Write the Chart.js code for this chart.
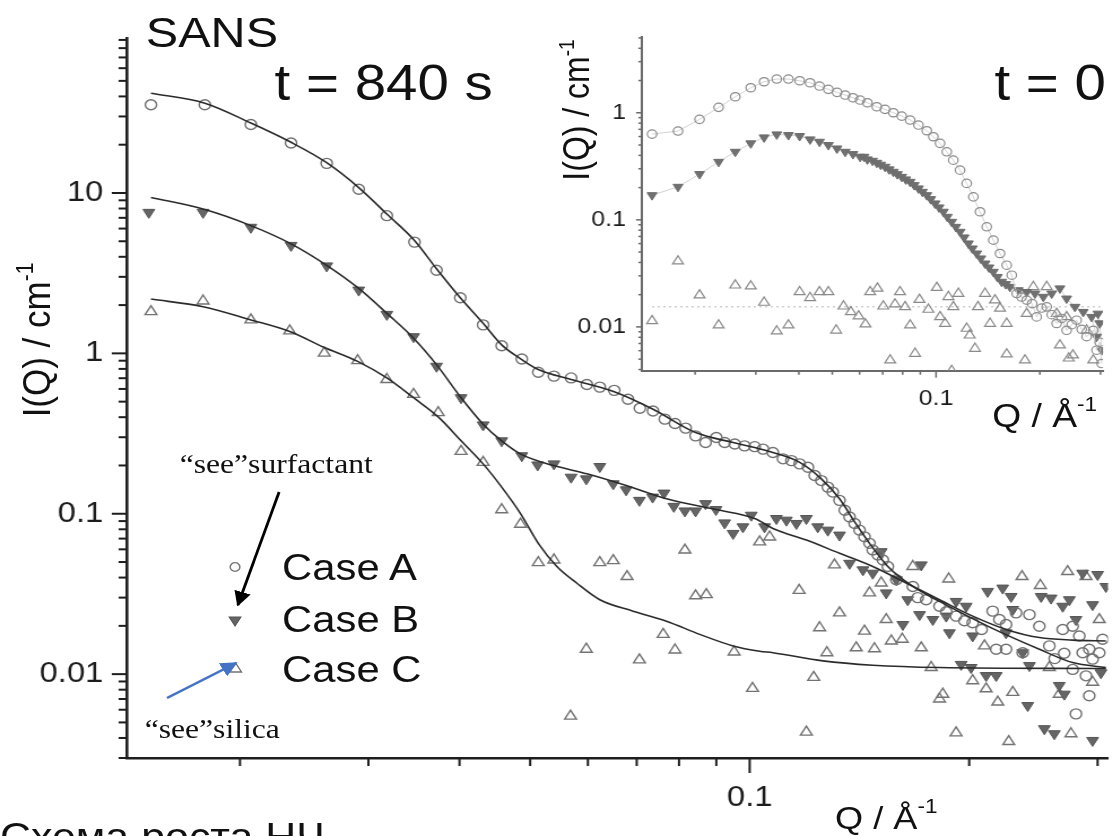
<!DOCTYPE html>
<html>
<head>
<meta charset="utf-8">
<script src="https://cdn.jsdelivr.net/npm/chart.js@4.4.1/dist/chart.umd.min.js"></script>
<style>
  html, body { margin: 0; padding: 0; background: #fff; overflow: hidden; }
  /* the source figure is stretched sideways, so the whole stage is too */
  #stage { position: absolute; left: 0; top: 0; width: 986px; height: 836px; transform: scaleX(1.13); transform-origin: 0 0; }
  #main { position: absolute; left: 0; top: 0; }
  #inset { position: absolute; left: 500px; top: 0; }
  #notes { position: absolute; left: 0; top: 0; }
</style>
</head>
<body>
<div id="stage">
  <canvas id="main" width="986" height="836"></canvas>
  <canvas id="inset" width="486" height="420"></canvas>
  <svg id="notes" width="986" height="836" font-family="'Liberation Sans', Arial, Helvetica, sans-serif" fill="#111">
    <defs>
      <marker id="headBlack" viewBox="0 0 10 10" refX="9" refY="5" markerWidth="6" markerHeight="6" orient="auto">
        <path d="M0,0 L10,5 L0,10 z" fill="#000"></path>
      </marker>
      <marker id="headBlue" viewBox="0 0 10 10" refX="9" refY="5" markerWidth="6" markerHeight="6" orient="auto">
        <path d="M0,0 L10,5 L0,10 z" fill="#4472c4"></path>
      </marker>
    </defs>
    <text x="129" y="47" font-size="43">SANS</text>
    <text x="243" y="100" font-size="50">t = 840 s</text>
    <text x="880" y="100" font-size="50">t = 0</text>

    <text transform="translate(44,340) rotate(-90)" text-anchor="middle" font-size="35">I(Q) / cm<tspan font-size="21" dy="-15">-1</tspan></text>
    <text transform="translate(521,110) rotate(-90)" text-anchor="middle" font-size="32">I(Q) / cm<tspan font-size="19" dy="-13">-1</tspan></text>
    <text x="739" y="829" font-size="32">Q / Å<tspan font-size="20" dy="-16">-1</tspan></text>
    <text x="878" y="427" font-size="33">Q / Å<tspan font-size="20" dy="-16">-1</tspan></text>

    <circle cx="208" cy="567" r="4.3" fill="none" stroke="#777" stroke-width="1.3"></circle>
    <polygon points="202.8,617 213.2,617 208,626" fill="#656565" stroke="#555" stroke-width="1"></polygon>
    <polygon points="208.5,663 213.7,672 203.3,672" fill="none" stroke="#737373" stroke-width="1.3"></polygon>
    <text x="249.6" y="580" font-size="37">Case A</text>
    <text x="249.6" y="632" font-size="37">Case B</text>
    <text x="249.6" y="682" font-size="37">Case C</text>

    <text x="159" y="473" font-size="28" font-family="'Liberation Serif', 'Times New Roman', serif">“see”surfactant</text>
    <text x="128" y="738" font-size="28" font-family="'Liberation Serif', 'Times New Roman', serif">“see”silica</text>
    <line x1="247" y1="492" x2="210.5" y2="605" stroke="#000" stroke-width="2.5" marker-end="url(#headBlack)"></line>
    <line x1="147.8" y1="698" x2="209" y2="663" stroke="#4472c4" stroke-width="2.5" marker-end="url(#headBlue)"></line>

    <text x="0" y="850" font-size="38">Схема роста НЧ</text>
  </svg>
</div>

<script>
// ---- t = 840 s, main plot: [Q (1/A), I(Q) (1/cm)] ----
const caseA840 = [
  [0.0151, 35.5], [0.0179, 35.5], [0.0207, 26.7], [0.0235, 20.5], [0.0263, 15.3],
  [0.0291, 10.55], [0.0318, 7.22], [0.0347, 4.94], [0.0372, 3.30], [0.0401, 2.22],
  [0.0431, 1.505], [0.0457, 1.116], [0.0487, 0.922], [0.0513, 0.763], [0.0539, 0.721],
  [0.0569, 0.703], [0.0598, 0.640], [0.0623, 0.616], [0.0652, 0.588], [0.0681, 0.517],
  [0.0707, 0.455], [0.0737, 0.437], [0.0765, 0.389], [0.0790, 0.365], [0.0817, 0.342],
  [0.0843, 0.306], [0.0870, 0.278], [0.0900, 0.299], [0.0924, 0.278], [0.0954, 0.272],
  [0.0984, 0.265], [0.1016, 0.262], [0.1043, 0.253], [0.1076, 0.241], [0.1111, 0.220],
  [0.1141, 0.2145], [0.1171, 0.2046], [0.1202, 0.195], [0.1228, 0.173], [0.1254, 0.161],
  [0.1280, 0.1466], [0.1300, 0.1365], [0.1328, 0.1212], [0.1350, 0.1051], [0.1371, 0.0955],
  [0.1393, 0.087], [0.1415, 0.079], [0.1437, 0.0718], [0.1460, 0.0654], [0.1475, 0.0594],
  [0.1499, 0.0553], [0.1523, 0.0515], [0.1547, 0.0469], [0.1589, 0.0388], [0.1674, 0.0352],
  [0.1700, 0.0300], [0.1746, 0.0291], [0.1821, 0.0265], [0.1860, 0.0245], [0.1919, 0.0230],
  [0.1970, 0.0215], [0.2022, 0.0209], [0.2080, 0.0190], [0.2154, 0.0247], [0.2200, 0.0219],
  [0.2247, 0.0204], [0.2319, 0.0241], [0.2419, 0.0235], [0.2496, 0.0199], [0.2178, 0.0143],
  [0.2247, 0.0143], [0.2368, 0.0136], [0.2576, 0.0150], [0.2620, 0.0125], [0.2700, 0.0135],
  [0.2687, 0.0190], [0.2773, 0.0199], [0.2832, 0.0173], [0.2862, 0.0136], [0.2922, 0.0143],
  [0.2953, 0.0124], [0.2892, 0.00976], [0.2922, 0.00734], [0.2802, 0.00565], [0.3016, 0.0136],
  [0.3048, 0.0165], [0.2773, 0.0107]
];
const caseB840 = [
  [0.0150, 7.57], [0.0178, 7.57], [0.0207, 6.11], [0.0235, 4.71], [0.0263, 3.51],
  [0.0291, 2.48], [0.0318, 1.75], [0.0346, 1.27], [0.0372, 0.831], [0.0402, 0.529],
  [0.0431, 0.358], [0.0457, 0.285], [0.0487, 0.230], [0.0512, 0.2016], [0.0539, 0.2046],
  [0.0569, 0.169], [0.0597, 0.165], [0.0623, 0.197], [0.0650, 0.1538], [0.0677, 0.141],
  [0.0706, 0.1212], [0.0736, 0.127], [0.0763, 0.1345], [0.0787, 0.1112], [0.0815, 0.1041],
  [0.0843, 0.1041], [0.0870, 0.1156], [0.0899, 0.1062], [0.0924, 0.0877], [0.0949, 0.0754],
  [0.0979, 0.0829], [0.1005, 0.0979], [0.1048, 0.0829], [0.1088, 0.0934], [0.1123, 0.0912],
  [0.1159, 0.087], [0.1196, 0.0934], [0.1240, 0.0829], [0.1280, 0.079], [0.1328, 0.0736],
  [0.1371, 0.0491], [0.1430, 0.0447], [0.1475, 0.0426], [0.1515, 0.058], [0.1539, 0.0321],
  [0.1589, 0.0388], [0.1719, 0.048], [0.1647, 0.0291], [0.1622, 0.0204], [0.1710, 0.0235],
  [0.1783, 0.0219], [0.1860, 0.0230], [0.1919, 0.0284], [0.1981, 0.0265], [0.1879, 0.0181],
  [0.2022, 0.0173], [0.2120, 0.0328], [0.2223, 0.0344], [0.2283, 0.0305], [0.2295, 0.0253],
  [0.2247, 0.0181], [0.2368, 0.0136], [0.2419, 0.0113], [0.1950, 0.0115], [0.2012, 0.0110],
  [0.2110, 0.0098], [0.2178, 0.0098], [0.2406, 0.00637], [0.2536, 0.00457], [0.2617, 0.00425],
  [0.2953, 0.00386], [0.2510, 0.0305], [0.2590, 0.0298], [0.2687, 0.0265], [0.2744, 0.0291],
  [0.2862, 0.0426], [0.3000, 0.0418], [0.2953, 0.0271], [0.2802, 0.0219], [0.2658, 0.0085],
  [0.2701, 0.0075], [0.3032, 0.0102], [0.3080, 0.0352]
];
const caseC840 = [
  [0.0151, 1.82], [0.0178, 2.12], [0.0207, 1.617], [0.0234, 1.382], [0.0261, 1.004],
  [0.0290, 0.901], [0.0318, 0.687], [0.0346, 0.555], [0.0374, 0.427], [0.0402, 0.245],
  [0.0431, 0.209], [0.0457, 0.106], [0.0485, 0.0861], [0.0513, 0.0496], [0.0539, 0.0515],
  [0.0623, 0.0496], [0.0650, 0.051], [0.0679, 0.0406], [0.0597, 0.0143], [0.0568, 0.00547],
  [0.0706, 0.01227], [0.0761, 0.0177], [0.0790, 0.01414], [0.0815, 0.0594], [0.0843, 0.0308],
  [0.0872, 0.0313], [0.0952, 0.01374], [0.1009, 0.00815], [0.1032, 0.0668], [0.1065, 0.0716],
  [0.1169, 0.0333], [0.1196, 0.00435], [0.1224, 0.00954], [0.1247, 0.01946], [0.1276, 0.0136],
  [0.1328, 0.0241], [0.1307, 0.048], [0.1400, 0.0146], [0.1437, 0.01854], [0.1483, 0.0144],
  [0.1460, 0.0321], [0.1515, 0.037], [0.1539, 0.0219], [0.1564, 0.0161], [0.1619, 0.0165],
  [0.1674, 0.0469], [0.1719, 0.0146], [0.1774, 0.011], [0.1875, 0.0392], [0.1919, 0.0043],
  [0.1821, 0.007], [0.1840, 0.0075], [0.2022, 0.0091], [0.2110, 0.0081], [0.2189, 0.0067],
  [0.2295, 0.0077], [0.2266, 0.0038], [0.2099, 0.015], [0.2363, 0.0406], [0.2504, 0.0357],
  [0.2576, 0.011], [0.2729, 0.0436], [0.2758, 0.00425], [0.2658, 0.0075], [0.2953, 0.0089],
  [0.3016, 0.0219], [0.2892, 0.0406]
];
// fitted curves
const fitA840 = [
  [0.0151, 41.9], [0.0179, 36.3], [0.0207, 27.3], [0.0235, 20.7], [0.0263, 15.45],
  [0.0291, 10.8], [0.0318, 7.39], [0.0347, 5.06], [0.0372, 3.37], [0.0401, 2.22],
  [0.0431, 1.54], [0.0457, 1.13], [0.0487, 0.914], [0.0513, 0.793], [0.0569, 0.687],
  [0.0652, 0.576], [0.0737, 0.448], [0.0843, 0.321], [0.0949, 0.278], [0.1016, 0.259],
  [0.1076, 0.241], [0.1171, 0.209], [0.1254, 0.165], [0.1328, 0.124], [0.1393, 0.0889],
  [0.1460, 0.0654], [0.1547, 0.0469], [0.1674, 0.0352], [0.1821, 0.0284], [0.2141, 0.0195],
  [0.2496, 0.0143], [0.2773, 0.0118], [0.3080, 0.011]
];
const fitB840 = [
  [0.0151, 9.38], [0.0178, 7.94], [0.0207, 6.26], [0.0235, 4.82], [0.0263, 3.54],
  [0.0291, 2.54], [0.0318, 1.776], [0.0346, 1.244], [0.0372, 0.851], [0.0402, 0.529],
  [0.0431, 0.362], [0.0457, 0.285], [0.0487, 0.2335], [0.0539, 0.1996], [0.0598, 0.1774],
  [0.0677, 0.150], [0.0769, 0.124], [0.0900, 0.1062], [0.1016, 0.0934], [0.1076, 0.081],
  [0.1196, 0.0685], [0.1328, 0.0567], [0.1475, 0.0469], [0.1639, 0.037], [0.1821, 0.0291],
  [0.2022, 0.0230], [0.2247, 0.019], [0.2496, 0.0169], [0.2773, 0.0163], [0.3080, 0.0161]
];
const fitC840 = [
  [0.0151, 2.18], [0.0178, 1.954], [0.0207, 1.617], [0.0234, 1.368], [0.0261, 1.089],
  [0.0290, 0.892], [0.0318, 0.703], [0.0346, 0.529], [0.0374, 0.4015], [0.0402, 0.285],
  [0.0431, 0.2046], [0.0457, 0.1466], [0.0485, 0.1003], [0.0513, 0.0654], [0.0544, 0.0469],
  [0.0579, 0.037], [0.0623, 0.0291], [0.0692, 0.0247], [0.0769, 0.0214], [0.0854, 0.0177],
  [0.0949, 0.015], [0.1032, 0.0139], [0.1076, 0.0136], [0.1260, 0.0121], [0.1475, 0.01137],
  [0.1821, 0.011], [0.3080, 0.01084]
];

// ---- t = 0, inset ----
const caseA0 = [
  [0.0150, 0.632], [0.01784, 0.675], [0.0206, 0.868], [0.0234, 1.123], [0.02615, 1.411],
  [0.0290, 1.712], [0.0317, 1.949], [0.0345, 2.065], [0.0373, 2.065], [0.0402, 1.991],
  [0.0431, 1.906], [0.0459, 1.776], [0.0487, 1.654], [0.0516, 1.551], [0.0545, 1.464],
  [0.0574, 1.381], [0.0602, 1.314], [0.0632, 1.240], [0.0673, 1.138], [0.0711, 1.076],
  [0.0752, 1.0], [0.0795, 0.931], [0.0841, 0.855], [0.0889, 0.768], [0.0940, 0.679],
  [0.0982, 0.597], [0.1027, 0.518], [0.1074, 0.432], [0.1122, 0.361], [0.1174, 0.291],
  [0.1227, 0.219], [0.1283, 0.164], [0.1341, 0.119], [0.1403, 0.0861], [0.1466, 0.0646],
  [0.1533, 0.0485], [0.1603, 0.0377], [0.1658, 0.0304], [0.1714, 0.0205], [0.1770, 0.0190],
  [0.1832, 0.0178], [0.1900, 0.0165], [0.1958, 0.0124], [0.2025, 0.0150], [0.2094, 0.0154],
  [0.2165, 0.0130], [0.2238, 0.01076], [0.2315, 0.0120], [0.2392, 0.0093], [0.2475, 0.0105],
  [0.2557, 0.01155], [0.2645, 0.0095], [0.2734, 0.0081], [0.2858, 0.0093], [0.2922, 0.00606],
  [0.2984, 0.0072], [0.3022, 0.00455]
];
const caseB0 = [
  [0.0150, 0.170], [0.01784, 0.2034], [0.0206, 0.2674], [0.0234, 0.348], [0.02615, 0.432],
  [0.0290, 0.518], [0.0317, 0.589], [0.0345, 0.628], [0.0373, 0.619], [0.0402, 0.606],
  [0.0431, 0.564], [0.0459, 0.536], [0.0487, 0.499], [0.0516, 0.464], [0.0545, 0.432],
  [0.0574, 0.411], [0.0602, 0.388], [0.0618, 0.388], [0.0632, 0.367], [0.0654, 0.356],
  [0.0673, 0.341], [0.0691, 0.327], [0.0711, 0.313], [0.0731, 0.296], [0.0752, 0.281],
  [0.0772, 0.267], [0.0795, 0.252], [0.0817, 0.2385], [0.0841, 0.2265], [0.0864, 0.211],
  [0.0889, 0.1965], [0.0913, 0.1827], [0.0940, 0.170], [0.0965, 0.1561], [0.0993, 0.1423],
  [0.1020, 0.1306], [0.1050, 0.119], [0.1078, 0.1067], [0.1110, 0.0958], [0.1141, 0.086],
  [0.1174, 0.0773], [0.1206, 0.0685], [0.1241, 0.0602], [0.1274, 0.054], [0.1312, 0.0485],
  [0.1348, 0.0436], [0.1387, 0.0391], [0.1424, 0.0359], [0.1466, 0.0327], [0.1506, 0.0293],
  [0.1550, 0.0264], [0.1592, 0.0251], [0.1638, 0.02366], [0.1731, 0.022], [0.1832, 0.0212],
  [0.1936, 0.0205], [0.2047, 0.0191], [0.2165, 0.0205], [0.2287, 0.0229], [0.2392, 0.0184],
  [0.2529, 0.0154], [0.2673, 0.0138], [0.2826, 0.0124], [0.2922, 0.0081], [0.2950, 0.0133],
  [0.2984, 0.0108], [0.3022, 0.00606]
];
const caseC0 = [
  [0.0150, 0.01138], [0.01784, 0.0411], [0.0206, 0.0198], [0.0234, 0.01038], [0.02615, 0.0245],
  [0.0290, 0.024], [0.0317, 0.0169], [0.0345, 0.00912], [0.0373, 0.01038], [0.0402, 0.0212],
  [0.0431, 0.0187], [0.0459, 0.0212], [0.0487, 0.0212], [0.0513, 0.0093], [0.0539, 0.0156],
  [0.0566, 0.0138], [0.0596, 0.0126], [0.0624, 0.0106], [0.0644, 0.0212], [0.0676, 0.0229],
  [0.0703, 0.0156], [0.0736, 0.00489], [0.0760, 0.0163], [0.0786, 0.0212], [0.0813, 0.0154],
  [0.0841, 0.01038], [0.0869, 0.00564], [0.0895, 0.018], [0.0950, 0.01454], [0.1005, 0.0233],
  [0.1027, 0.0124], [0.1062, 0.01075], [0.1086, 0.0191], [0.1110, 0.0039], [0.1122, 0.0154],
  [0.1161, 0.0205], [0.1227, 0.00966], [0.1252, 0.00836], [0.1297, 0.00628], [0.1323, 0.0154],
  [0.1387, 0.0205], [0.1434, 0.01075], [0.1482, 0.0178], [0.1533, 0.0149], [0.1603, 0.01075],
  [0.1603, 0.00556], [0.1811, 0.00489], [0.1832, 0.0133], [0.1915, 0.0237], [0.2094, 0.0237],
  [0.2238, 0.0133], [0.2287, 0.00675], [0.2392, 0.0124], [0.2427, 0.0051], [0.2495, 0.00544],
  [0.2734, 0.0093], [0.2858, 0.00489]
];
const levelC0 = [[0.0150, 0.0154], [0.3000, 0.0154]];

// ---- axes ----
const qRange = [0.014, 0.31];
const qRangeInset = [0.014, 0.305];
const qTicks = [0.02, 0.03, 0.04, 0.05, 0.06, 0.07, 0.08, 0.09, 0.1, 0.2, 0.3];
const qLabelAt = [0.1];
const qLabels = ['0.1'];

const iRange840 = [0.003, 92];
const iTicks840 = [0.003, 0.004, 0.005, 0.006, 0.007, 0.008, 0.009, 0.01,
  0.02, 0.03, 0.04, 0.05, 0.06, 0.07, 0.08, 0.09, 0.1,
  0.2, 0.3, 0.4, 0.5, 0.6, 0.7, 0.8, 0.9, 1,
  2, 3, 4, 5, 6, 7, 8, 9, 10, 20, 30, 40, 50, 60, 70, 80, 90];
const iLabelAt840 = [0.01, 0.1, 1, 10];
const iLabels840 = ['0.01', '0.1', '1', '10'];

const iRange0 = [0.0039, 5.1];
const iTicks0 = [0.004, 0.005, 0.006, 0.007, 0.008, 0.009, 0.01,
  0.02, 0.03, 0.04, 0.05, 0.06, 0.07, 0.08, 0.09, 0.1,
  0.2, 0.3, 0.4, 0.5, 0.6, 0.7, 0.8, 0.9, 1, 2, 3, 4, 5];
const iLabelAt0 = [0.01, 0.1, 1];
const iLabels0 = ['0.01', '0.1', '1'];

const FONT = '"Liberation Sans", Arial, Helvetica, sans-serif';
const toXY = arr => arr.map(p => ({ x: p[0], y: p[1] }));
const labelFor = (values, labels) => v => {
  const k = values.indexOf(v);
  return k < 0 ? '' : labels[k];
};

// short and long tick marks, placed with the chart's own scales
function tickMarks(cfg) {
  return {
    id: 'tickMarks',
    afterDraw(chart) {
      const ctx = chart.ctx;
      const xs = chart.scales.x, ys = chart.scales.y;
      ctx.save();
      ctx.strokeStyle = cfg.color;
      ctx.lineWidth = cfg.xw;
      qTicks.forEach(v => {
        const p = xs.getPixelForValue(v);
        const len = qLabelAt.includes(v) ? cfg.xLong : cfg.xShort;
        ctx.beginPath(); ctx.moveTo(p, xs.top); ctx.lineTo(p, xs.top + len); ctx.stroke();
      });
      ctx.lineWidth = cfg.yw;
      cfg.yTicks.forEach(v => {
        const p = ys.getPixelForValue(v);
        const len = cfg.yMajor.includes(v) ? cfg.yLong : cfg.yShort;
        ctx.beginPath(); ctx.moveTo(ys.right, p); ctx.lineTo(ys.right - len, p); ctx.stroke();
      });
      ctx.restore();
    }
  };
}

// the library only gets the labelled ticks; the small marks come from the plugin above
function logAxes(o) {
  return {
    x: {
      type: 'logarithmic', min: o.xr[0], max: o.xr[1], bounds: 'data',
      grid: { display: false, drawTicks: false },
      border: { display: true, color: o.axisColor, width: o.axisWidth },
      afterBuildTicks: s => { s.ticks = qLabelAt.map(v => ({ value: v })); },
      afterFit: s => { s.height = o.xh; },
      ticks: { autoSkip: false, maxRotation: 0, padding: o.xPad, color: '#1c1c1c',
        font: { family: FONT, size: o.fs }, callback: labelFor(qLabelAt, qLabels) }
    },
    y: {
      type: 'logarithmic', min: o.yr[0], max: o.yr[1], bounds: 'data',
      grid: { display: false, drawTicks: false },
      border: { display: true, color: o.axisColor, width: o.axisWidth },
      afterBuildTicks: s => { s.ticks = o.yLabelAt.map(v => ({ value: v })); },
      afterFit: s => { s.width = o.yw; },
      ticks: { autoSkip: false, padding: o.yPad, color: '#1c1c1c',
        font: { family: FONT, size: o.fs }, callback: labelFor(o.yLabelAt, o.yLabels) }
    }
  };
}

const fitLine = data => ({
  data: toXY(data), showLine: true, pointRadius: 0, borderColor: '#2a2a2a',
  borderWidth: 1.6, cubicInterpolationMode: 'monotone', order: 0
});

new Chart(document.getElementById('main'), {
  type: 'scatter',
  data: {
    datasets: [
      fitLine(fitA840), fitLine(fitB840), fitLine(fitC840),
      { label: 'Case A', data: toXY(caseA840), pointStyle: 'circle', pointRadius: 5,
        borderColor: '#707070', borderWidth: 1.4, backgroundColor: 'rgba(255,255,255,0)', order: 1 },
      { label: 'Case B', data: toXY(caseB840), pointStyle: 'triangle', rotation: 180, pointRadius: 6,
        borderColor: '#555', borderWidth: 1, backgroundColor: '#656565', order: 1 },
      { label: 'Case C', data: toXY(caseC840), pointStyle: 'triangle', pointRadius: 6,
        borderColor: '#737373', borderWidth: 1.4, backgroundColor: 'rgba(255,255,255,0)', order: 1 }
    ]
  },
  options: {
    responsive: false, animation: false, events: [],
    layout: { autoPadding: false, padding: { left: 0, right: 5.5, top: 36, bottom: 0 } },
    plugins: { legend: { display: false }, tooltip: { enabled: false } },
    scales: logAxes({ xr: qRange, yr: iRange840, yLabelAt: iLabelAt840, yLabels: iLabels840,
      axisColor: '#1e1e1e', axisWidth: 2.6, xh: 78, yw: 112.4, xPad: 23, yPad: 21, fs: 29 })
  },
  plugins: [tickMarks({ color: '#1e1e1e', xw: 2, yw: 2, xLong: 15, xShort: 8, yLong: 13.5, yShort: 7.5,
    yTicks: iTicks840, yMajor: iLabelAt840 })]
});

new Chart(document.getElementById('inset'), {
  type: 'scatter',
  data: {
    datasets: [
      { data: toXY(levelC0), showLine: true, pointRadius: 0, borderColor: '#cfcfcf',
        borderWidth: 1.5, borderDash: [2, 3], order: 2 },
      { label: 'Case A', data: toXY(caseA0), showLine: true, borderColor: '#d2d2d2', borderWidth: 1,
        pointStyle: 'circle', pointRadius: 4.2, pointBorderColor: '#8c8c8c', pointBorderWidth: 1.2,
        pointBackgroundColor: 'rgba(255,255,255,0)', order: 1 },
      { label: 'Case B', data: toXY(caseB0), showLine: true, borderColor: '#d2d2d2', borderWidth: 1,
        pointStyle: 'triangle', rotation: 180, pointRadius: 5, pointBorderColor: '#6c6c6c',
        pointBorderWidth: 1, pointBackgroundColor: '#707070', order: 1 },
      { label: 'Case C', data: toXY(caseC0), pointStyle: 'triangle', pointRadius: 5.5,
        borderColor: '#8a8a8a', borderWidth: 1.2, backgroundColor: 'rgba(255,255,255,0)', order: 1 }
    ]
  },
  options: {
    responsive: false, animation: false, events: [],
    layout: { autoPadding: false, padding: { left: 0, right: 9.9, top: 37, bottom: 0 } },
    plugins: { legend: { display: false }, tooltip: { enabled: false } },
    scales: logAxes({ xr: qRangeInset, yr: iRange0, yLabelAt: iLabelAt0, yLabels: iLabels0,
      axisColor: '#6a6a6a', axisWidth: 2, xh: 49.3, yw: 67.9, xPad: 15, yPad: 14, fs: 22 })
  },
  plugins: [tickMarks({ color: '#6a6a6a', xw: 1.5, yw: 1.5, xLong: 7, xShort: 4, yLong: 5, yShort: 3,
    yTicks: iTicks0, yMajor: iLabelAt0 })]
});
</script>
</body>
</html>
